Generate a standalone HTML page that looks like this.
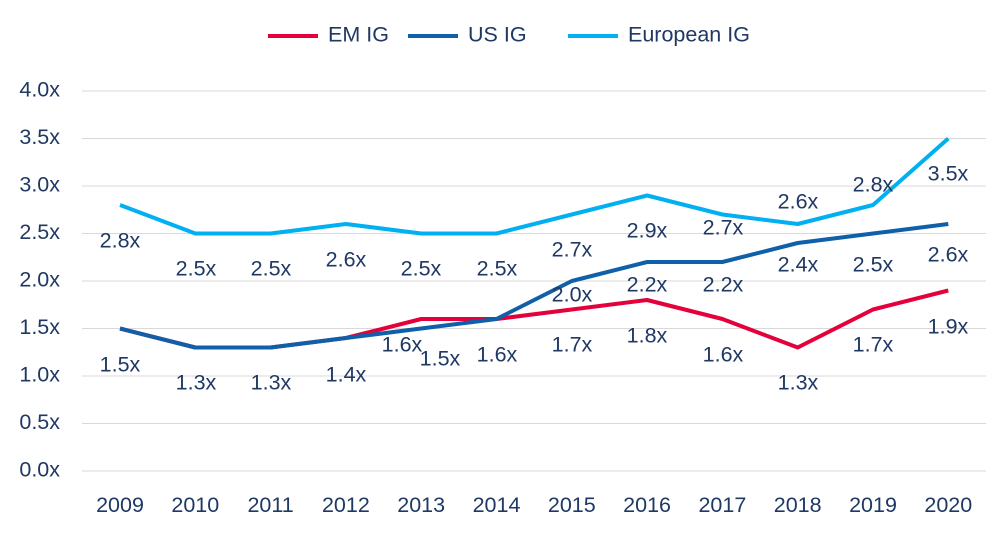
<!DOCTYPE html>
<html><head><meta charset="utf-8"><style>
html,body{margin:0;padding:0;background:#fff;}
svg text{font-family:"Liberation Sans",sans-serif;}
</style></head><body>
<svg width="1006" height="542" viewBox="0 0 1006 542" xmlns="http://www.w3.org/2000/svg">
<g stroke="#d9d9d9" stroke-width="1">
<line x1="82" x2="986" y1="91" y2="91"/><line x1="82" x2="986" y1="138.5" y2="138.5"/>
<line x1="82" x2="986" y1="186" y2="186"/><line x1="82" x2="986" y1="233.5" y2="233.5"/>
<line x1="82" x2="986" y1="281" y2="281"/><line x1="82" x2="986" y1="328.5" y2="328.5"/>
<line x1="82" x2="986" y1="376" y2="376"/><line x1="82" x2="986" y1="423.5" y2="423.5"/>
<line x1="82" x2="986" y1="471" y2="471"/>
</g>
<g fill="#1f3864" font-size="21.5" text-anchor="end" dominant-baseline="middle">
<text x="60" y="91">4.0x</text><text x="60" y="138.5">3.5x</text><text x="60" y="186">3.0x</text>
<text x="60" y="233.5">2.5x</text><text x="60" y="281">2.0x</text><text x="60" y="328.5">1.5x</text>
<text x="60" y="376">1.0x</text><text x="60" y="423.5">0.5x</text><text x="60" y="471">0.0x</text>
</g>
<g fill="#1f3864" font-size="21.5" text-anchor="middle">
<text x="120" y="512">2009</text><text x="195.3" y="512">2010</text><text x="270.6" y="512">2011</text>
<text x="345.9" y="512">2012</text><text x="421.2" y="512">2013</text><text x="496.5" y="512">2014</text>
<text x="571.8" y="512">2015</text><text x="647.1" y="512">2016</text><text x="722.4" y="512">2017</text>
<text x="797.7" y="512">2018</text><text x="873" y="512">2019</text><text x="948.3" y="512">2020</text>
</g>
<g fill="none" stroke-width="4" stroke-linejoin="round">
<polyline stroke="#00b0f0" points="120,205 195.3,233.5 270.6,233.5 345.9,224 421.2,233.5 496.5,233.5 571.8,214.5 647.1,195.5 722.4,214.5 797.7,224 873,205 948.3,138.5"/>
<polyline stroke="#e4003b" points="120,328.5 195.3,347.5 270.6,347.5 345.9,338 421.2,319 496.5,319 571.8,309.5 647.1,300 722.4,319 797.7,347.5 873,309.5 948.3,290.5"/>
<polyline stroke="#0f60a8" points="120,328.5 195.3,347.5 270.6,347.5 345.9,338 421.2,328.5 496.5,319 571.8,281 647.1,262 722.4,262 797.7,243 873,233.5 948.3,224"/>
</g>
<g fill="#1f3864" font-size="21.5" text-anchor="middle" dominant-baseline="middle">
<text x="120" y="242">2.8x</text><text x="196" y="270">2.5x</text><text x="271" y="270">2.5x</text>
<text x="346" y="261">2.6x</text><text x="421" y="270">2.5x</text><text x="497" y="270">2.5x</text>
<text x="572" y="251">2.7x</text><text x="647" y="232">2.9x</text><text x="723" y="229">2.7x</text>
<text x="798" y="203">2.6x</text><text x="873" y="186">2.8x</text><text x="948" y="175">3.5x</text>
<text x="120" y="366">1.5x</text><text x="196" y="384">1.3x</text><text x="271" y="384">1.3x</text>
<text x="346" y="376">1.4x</text><text x="440" y="360">1.5x</text><text x="497" y="356">1.6x</text>
<text x="572" y="296">2.0x</text><text x="647" y="286">2.2x</text><text x="723" y="286">2.2x</text>
<text x="798" y="266">2.4x</text><text x="873" y="266">2.5x</text><text x="948" y="256">2.6x</text>
<text x="402" y="346">1.6x</text><text x="572" y="346">1.7x</text><text x="647" y="337">1.8x</text>
<text x="723" y="356">1.6x</text><text x="798" y="384">1.3x</text><text x="873" y="346">1.7x</text>
<text x="948" y="328">1.9x</text>
</g>
<g stroke-width="4">
<line x1="268" x2="318" y1="36" y2="36" stroke="#e4003b"/>
<line x1="408" x2="458" y1="36" y2="36" stroke="#0f60a8"/>
<line x1="568" x2="618" y1="36" y2="36" stroke="#00b0f0"/>
</g>
<g fill="#1f3864" font-size="21.5" dominant-baseline="middle">
<text x="328" y="36">EM IG</text><text x="468" y="36">US IG</text><text x="628" y="36">European IG</text>
</g>
</svg>
</body></html>
